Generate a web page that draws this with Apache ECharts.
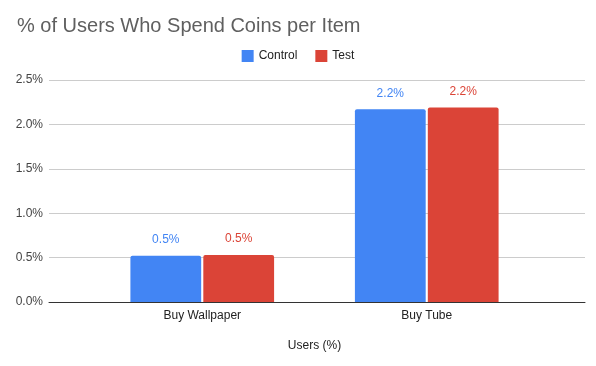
<!DOCTYPE html>
<html>
<head>
<meta charset="utf-8">
<script src="https://cdn.jsdelivr.net/npm/echarts@6/dist/echarts.min.js"></script>
<style>html,body{margin:0;padding:0;background:#fff}#c{width:596px;height:366px}</style>
</head>
<body>
<div id="c"></div>
<script>
const categories = ['Buy Wallpaper', 'Buy Tube'];
const controlValues = [0.52, 2.17];
const testValues = [0.53, 2.19];
const seriesNames = ['Control', 'Test'];
const yTicks = [0, 0.5, 1.0, 1.5, 2.0, 2.5];

const FONT = '"Liberation Sans", Arial, sans-serif';
const chart = echarts.init(document.getElementById('c'));
const lbl = (color) => ({
  show: true, position: 'top', distance: 10,
  formatter: p => p.value.toFixed(1) + '%',
  color: color, fontSize: 12, fontFamily: FONT
});
chart.setOption({
  animation: false,
  textStyle: { fontFamily: FONT },
  title: {
    text: '% of Users Who Spend Coins per Item',
    left: 12, top: 11,
    textStyle: { fontSize: 20, fontWeight: 'normal', color: '#5f5f5f', fontFamily: FONT }
  },
  legend: {
    data: seriesNames, top: 45, left: 'center',
    icon: 'rect', itemWidth: 12, itemHeight: 12, itemGap: 18,
    textStyle: { fontSize: 12, color: '#222', fontFamily: FONT }
  },
  grid: [
    { left: 49, right: 11, top: 80, bottom: 64 },
    { left: 90, right: 57, top: 80, bottom: 64 }
  ],
  xAxis: [
    { type: 'category', gridIndex: 0, data: [''],
      axisLine: { lineStyle: { color: '#333', width: 1 } },
      axisTick: { show: false }, axisLabel: { show: false }, splitLine: { show: false } },
    { type: 'category', gridIndex: 1, data: categories,
      axisLine: { show: false }, axisTick: { show: false },
      axisLabel: { color: '#222', fontSize: 12, margin: 8, fontFamily: FONT },
      name: 'Users (%)', nameLocation: 'middle', nameGap: 38,
      nameTextStyle: { color: '#222', fontSize: 12, fontFamily: FONT } }
  ],
  yAxis: [
    { type: 'value', gridIndex: 0, min: yTicks[0], max: yTicks[yTicks.length - 1], interval: 0.5,
      axisLine: { show: false }, axisTick: { show: false },
      axisLabel: { formatter: v => v.toFixed(1) + '%', color: '#444', fontSize: 12, margin: 6, fontFamily: FONT },
      splitLine: { lineStyle: { color: '#cccccc', width: 1 } } },
    { type: 'value', gridIndex: 1, min: yTicks[0], max: yTicks[yTicks.length - 1], interval: 0.5,
      show: false, splitLine: { show: false } }
  ],
  series: [
    { name: seriesNames[0], type: 'bar', xAxisIndex: 1, yAxisIndex: 1, data: controlValues,
      barGap: '3%', barCategoryGap: '36%',
      itemStyle: { color: '#4285f4', borderRadius: [2, 2, 0, 0] }, label: lbl('#4285f4') },
    { name: seriesNames[1], type: 'bar', xAxisIndex: 1, yAxisIndex: 1, data: testValues,
      barGap: '3%', barCategoryGap: '36%',
      itemStyle: { color: '#db4437', borderRadius: [2, 2, 0, 0] }, label: lbl('#db4437') }
  ]
});
</script>
</body>
</html>
